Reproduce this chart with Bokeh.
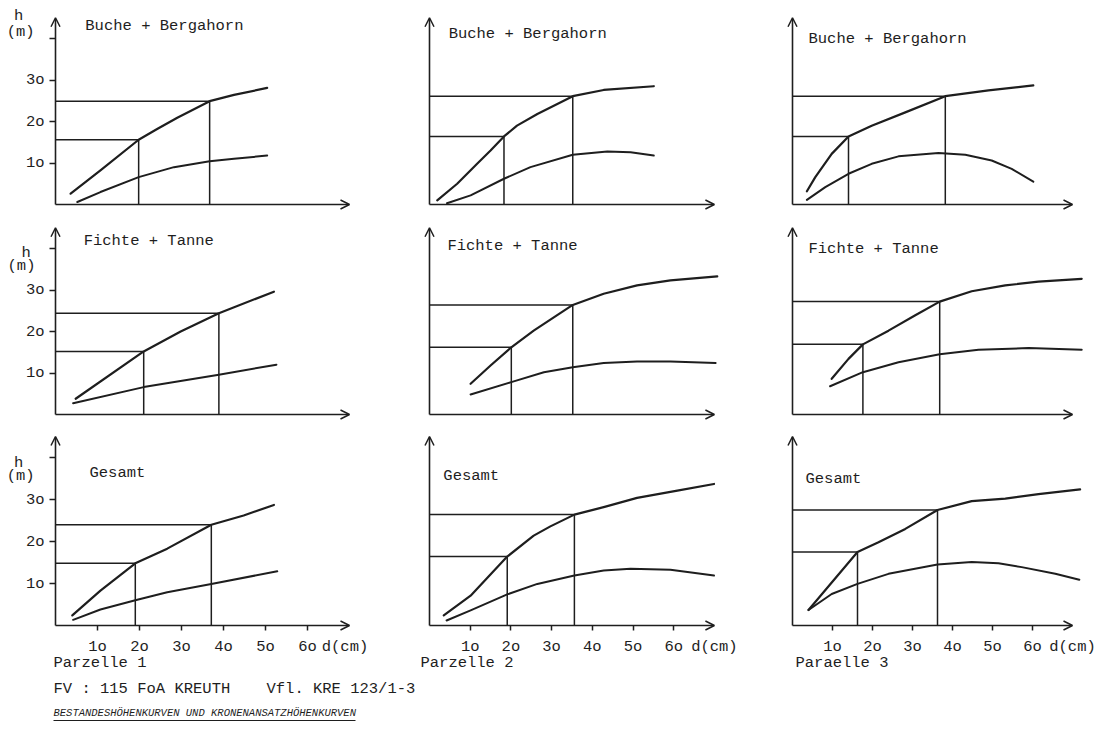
from bokeh.plotting import figure
from bokeh.layouts import column, row
from bokeh.models import Range1d, Arrow, OpenHead, Label, LinearAxis, FixedTicker
from bokeh.embed import file_html
from bokeh.resources import INLINE

# ---------------- data ----------------
row_titles = ["Buche + Bergahorn", "Fichte + Tanne", "Gesamt"]
plot_names = ["Parzelle 1", "Parzelle 2", "Paraelle 3"]
y_ticks = [10, 20, 30, 40]
y_tick_labels = ["1o", "2o", "3o", ""]
x_ticks = [10, 20, 30, 40, 50, 60]
x_tick_labels = ["1o", "2o", "3o", "4o", "5o", "6o"]
x_unit = "d(cm)"
x_unit_at = 70
y_unit = ["h", "(m)"]
footer_line1 = "FV : 115 FoA KREUTH"
footer_line1b = "Vfl. KRE 123/1-3"
footer_title = "BESTANDESHÖHENKURVEN UND KRONENANSATZHÖHENKURVEN"

# Parzelle 1 - Buche + Bergahorn
p1_bb_top_d = [3.6, 10.7, 19.8, 24.2, 29.0, 36.7, 42.5, 50.4]
p1_bb_top_h = [2.6, 8.2, 15.6, 18.2, 20.9, 24.9, 26.4, 28.1]
p1_bb_low_d = [5.2, 10.7, 19.8, 28.2, 36.7, 42.5, 50.4]
p1_bb_low_h = [0.6, 3.0, 6.6, 9.0, 10.4, 11.0, 11.8]
p1_bb_ref_d = [19.8, 36.7]
p1_bb_ref_h = [15.6, 24.9]
# Parzelle 2 - Buche + Bergahorn
p2_bb_top_d = [1.9, 6.8, 11.7, 15.0, 18.3, 21.5, 26.5, 35.2, 42.8, 55.1]
p2_bb_top_h = [1.0, 5.0, 9.8, 13.0, 16.4, 19.0, 21.8, 26.1, 27.6, 28.5]
p2_bb_low_d = [4.3, 10.1, 18.3, 24.8, 35.2, 43.7, 49.4, 55.1]
p2_bb_low_h = [0.3, 2.2, 6.2, 9.0, 12.0, 12.8, 12.6, 11.8]
p2_bb_ref_d = [18.3, 35.2]
p2_bb_ref_h = [16.4, 26.1]
# Parzelle 3 - Buche + Bergahorn
p3_bb_top_d = [3.6, 5.7, 9.8, 14.0, 19.8, 28.2, 38.2, 49.0, 60.2]
p3_bb_top_h = [3.2, 6.6, 12.2, 16.4, 19.0, 22.2, 26.1, 27.5, 28.7]
p3_bb_low_d = [3.6, 8.2, 14.0, 19.8, 26.5, 36.5, 43.2, 49.8, 54.8, 60.2]
p3_bb_low_h = [1.1, 4.2, 7.4, 9.8, 11.6, 12.4, 12.0, 10.6, 8.6, 5.5]
p3_bb_ref_d = [14.0, 38.2]
p3_bb_ref_h = [16.4, 26.1]

# Parzelle 1 - Fichte + Tanne
p1_ft_top_d = [4.8, 21.0, 29.8, 38.9, 52.0]
p1_ft_top_h = [3.8, 15.2, 20.0, 24.4, 29.6]
p1_ft_low_d = [4.2, 21.0, 38.9, 52.6]
p1_ft_low_h = [2.7, 6.6, 9.6, 12.0]
p1_ft_ref_d = [21.0, 38.9]
p1_ft_ref_h = [15.2, 24.4]
# Parzelle 2 - Fichte + Tanne
p2_ft_top_d = [10.1, 15.0, 20.1, 25.6, 35.2, 42.8, 51.0, 59.2, 70.7]
p2_ft_top_h = [7.4, 11.8, 16.2, 20.2, 26.4, 29.1, 31.1, 32.3, 33.3]
p2_ft_low_d = [10.1, 20.1, 28.1, 35.2, 42.8, 51.0, 59.2, 70.3]
p2_ft_low_h = [4.8, 7.8, 10.2, 11.4, 12.4, 12.8, 12.8, 12.4]
p2_ft_ref_d = [20.1, 35.2]
p2_ft_ref_h = [16.2, 26.4]
# Parzelle 3 - Fichte + Tanne
p3_ft_top_d = [9.8, 14.0, 17.6, 24.0, 30.7, 36.8, 44.8, 53.2, 61.5, 72.3]
p3_ft_top_h = [8.6, 13.4, 16.9, 20.2, 23.9, 27.2, 29.7, 31.1, 32.0, 32.7]
p3_ft_low_d = [9.4, 17.6, 26.5, 36.8, 46.5, 59.0, 72.3]
p3_ft_low_h = [6.8, 10.2, 12.6, 14.5, 15.6, 16.0, 15.6]
p3_ft_ref_d = [17.6, 36.8]
p3_ft_ref_h = [16.9, 27.2]

# Parzelle 1 - Gesamt
p1_ge_top_d = [4.0, 10.7, 19.0, 26.6, 37.1, 44.8, 52.0]
p1_ge_top_h = [2.4, 8.3, 14.8, 18.3, 24.0, 26.2, 28.7]
p1_ge_low_d = [4.2, 10.7, 19.0, 26.6, 37.1, 52.8]
p1_ge_low_h = [1.35, 3.8, 6.0, 7.9, 9.9, 12.9]
p1_ge_ref_d = [19.0, 37.1]
p1_ge_ref_h = [14.8, 24.0]
# Parzelle 2 - Gesamt
p2_ge_top_d = [3.5, 10.1, 19.1, 25.6, 29.7, 35.6, 42.8, 51.0, 60.9, 69.9]
p2_ge_top_h = [2.4, 7.1, 16.4, 21.4, 23.6, 26.4, 28.2, 30.4, 32.1, 33.7]
p2_ge_low_d = [4.2, 10.1, 19.1, 26.5, 35.6, 42.8, 49.4, 59.2, 69.9]
p2_ge_low_h = [1.2, 3.6, 7.4, 9.9, 11.9, 13.1, 13.5, 13.3, 11.9]
p2_ge_ref_d = [19.1, 35.6]
p2_ge_ref_h = [16.4, 26.4]
# Parzelle 3 - Gesamt
p3_ge_top_d = [4.0, 16.25, 21.5, 28.2, 36.25, 44.8, 53.2, 61.5, 71.9]
p3_ge_top_h = [3.7, 17.5, 19.8, 23.0, 27.5, 29.6, 30.2, 31.3, 32.4]
p3_ge_low_d = [4.0, 9.8, 16.25, 24.0, 36.25, 44.8, 51.5, 57.3, 65.7, 71.7]
p3_ge_low_h = [3.7, 7.5, 9.9, 12.3, 14.5, 15.1, 14.8, 13.9, 12.3, 10.9]
p3_ge_ref_d = [16.25, 36.25]
p3_ge_ref_h = [17.5, 27.5]

panels = [
    [(p1_bb_top_d, p1_bb_top_h, p1_bb_low_d, p1_bb_low_h, p1_bb_ref_d, p1_bb_ref_h),
     (p2_bb_top_d, p2_bb_top_h, p2_bb_low_d, p2_bb_low_h, p2_bb_ref_d, p2_bb_ref_h),
     (p3_bb_top_d, p3_bb_top_h, p3_bb_low_d, p3_bb_low_h, p3_bb_ref_d, p3_bb_ref_h)],
    [(p1_ft_top_d, p1_ft_top_h, p1_ft_low_d, p1_ft_low_h, p1_ft_ref_d, p1_ft_ref_h),
     (p2_ft_top_d, p2_ft_top_h, p2_ft_low_d, p2_ft_low_h, p2_ft_ref_d, p2_ft_ref_h),
     (p3_ft_top_d, p3_ft_top_h, p3_ft_low_d, p3_ft_low_h, p3_ft_ref_d, p3_ft_ref_h)],
    [(p1_ge_top_d, p1_ge_top_h, p1_ge_low_d, p1_ge_low_h, p1_ge_ref_d, p1_ge_ref_h),
     (p2_ge_top_d, p2_ge_top_h, p2_ge_low_d, p2_ge_low_h, p2_ge_ref_d, p2_ge_ref_h),
     (p3_ge_top_d, p3_ge_top_h, p3_ge_low_d, p3_ge_low_h, p3_ge_ref_d, p3_ge_ref_h)],
]

# ---------------- layout / style ----------------
INK = "#1e1e1e"
FONT = "Liberation Mono"
FS = "15.5px"
COL_CELLS = [(0, 370), (370, 738), (738, 1108)]
COL_ORIGIN = [55, 429, 792]
COL_SCALE = [4.2, 4.07, 4.0]
ROW_CELLS = [(0, 214), (214, 424), (424, 654)]
ROW_ORIGIN = [204, 414, 625]
ROW_SCALE = [4.15, 4.15, 4.2]
X_TIP = 70
Y_TIP = 45
title_pos = [[(7.1, 43.1), (4.7, 41.2), (4.0, 40.0)],
             [(6.7, 41.7), (4.4, 40.7), (4.0, 39.8)],
             [(8.1, 36.2), (3.4, 35.7), (3.25, 35.0)]]
unit_pos = [[(-8.8, 45.5), (-8.3, 41.6)],
            [(-7.0, 38.8), (-8.1, 35.9)],
            [(-8.8, 38.8), (-8.3, 35.7)]]


def clean(p):
    p.grid.grid_line_color = None
    p.xgrid.visible = False
    p.ygrid.visible = False


def make_panel(r, c):
    cl, cr = COL_CELLS[c]
    rt, rb = ROW_CELLS[r]
    x0, sx = COL_ORIGIN[c], COL_SCALE[c]
    y0, sy = ROW_ORIGIN[r], ROW_SCALE[r]
    p = figure(width=cr - cl, height=rb - rt,
               x_range=Range1d((cl - x0) / sx, (cr - x0) / sx),
               y_range=Range1d((y0 - rb) / sy, (y0 - rt) / sy),
               x_axis_location=None, y_axis_location=None,
               toolbar_location=None, output_backend="svg",
               min_border=0, outline_line_color=None,
               background_fill_color="white", border_fill_color="white")
    clean(p)
    top_d, top_h, low_d, low_h, ref_d, ref_h = panels[r][c]
    n = len(ref_d)
    # guide lines
    p.segment(x0=[0] * n, y0=ref_h, x1=ref_d, y1=ref_h, line_color=INK, line_width=1.5)
    p.segment(x0=ref_d, y0=[0] * n, x1=ref_d, y1=ref_h, line_color=INK, line_width=1.5)
    # curves
    p.line(top_d, top_h, line_color=INK, line_width=2.2, line_join="round", line_cap="round")
    p.line(low_d, low_h, line_color=INK, line_width=2.0, line_join="round", line_cap="round")
    # axes with arrow heads
    p.add_layout(Arrow(end=OpenHead(size=9, line_width=1.5, line_color=INK),
                       x_start=0, y_start=0, x_end=0, y_end=Y_TIP,
                       line_color=INK, line_width=1.6))
    p.add_layout(Arrow(end=OpenHead(size=9, line_width=1.5, line_color=INK),
                       x_start=0, y_start=0, x_end=X_TIP, y_end=0,
                       line_color=INK, line_width=1.6))
    if c == 0:
        ya = LinearAxis(ticker=FixedTicker(ticks=y_ticks),
                        major_label_overrides={float(t): l for t, l in zip(y_ticks, y_tick_labels)},
                        fixed_location=0, axis_line_color=None,
                        major_tick_in=0, major_tick_out=6, major_tick_line_width=1.5,
                        major_tick_line_color=INK, minor_tick_line_color=None,
                        major_label_text_font=FONT, major_label_text_font_size=FS,
                        major_label_text_color=INK, major_label_standoff=5)
        p.add_layout(ya, "left")
        for txt, (ux, uy) in zip(y_unit, unit_pos[r]):
            p.add_layout(Label(x=ux, y=uy, text=txt, text_font=FONT, text_font_size=FS,
                               text_color=INK, text_align="center", text_baseline="middle"))
    if r == 2:
        xa = LinearAxis(ticker=FixedTicker(ticks=x_ticks),
                        major_label_overrides={float(t): l for t, l in zip(x_ticks, x_tick_labels)},
                        fixed_location=0, axis_line_color=None,
                        major_tick_in=0, major_tick_out=5, major_tick_line_width=1.5,
                        major_tick_line_color=INK, minor_tick_line_color=None,
                        major_label_text_font=FONT, major_label_text_font_size=FS,
                        major_label_text_color=INK, major_label_standoff=7)
        p.add_layout(xa, "below")
        xu = LinearAxis(ticker=FixedTicker(ticks=[x_unit_at]),
                        major_label_overrides={float(x_unit_at): x_unit},
                        fixed_location=0, axis_line_color=None,
                        major_tick_in=0, major_tick_out=5, major_tick_line_color=None,
                        minor_tick_line_color=None,
                        major_label_text_font=FONT, major_label_text_font_size=FS,
                        major_label_text_color=INK, major_label_standoff=7)
        p.add_layout(xu, "below")
    tx, ty = title_pos[r][c]
    p.add_layout(Label(x=tx, y=ty, text=row_titles[r], text_font=FONT, text_font_size=FS,
                       text_color=INK, text_align="left", text_baseline="middle"))
    return p


rows = []
for r in range(3):
    rows.append(row([make_panel(r, c) for c in range(3)], spacing=0))

# footer
top = ROW_CELLS[2][1]
pb = figure(width=1108, height=742 - top, x_range=Range1d(0, 1108), y_range=Range1d(742, top),
            x_axis_location=None, y_axis_location=None, toolbar_location=None,
            output_backend="svg", min_border=0, outline_line_color=None,
            background_fill_color="white", border_fill_color="white")
clean(pb)
for name, xpos in zip(plot_names, [53, 420, 795]):
    pb.add_layout(Label(x=xpos, y=662, text=name, text_font=FONT, text_font_size=FS,
                        text_color=INK, text_baseline="middle"))
pb.add_layout(Label(x=53, y=688, text=footer_line1, text_font=FONT, text_font_size=FS,
                    text_color=INK, text_baseline="middle"))
pb.add_layout(Label(x=266, y=688, text=footer_line1b, text_font=FONT, text_font_size=FS,
                    text_color=INK, text_baseline="middle"))
pb.add_layout(Label(x=53, y=712, text=footer_title, text_font=FONT,
                    text_font_size="10.5px", text_font_style="italic", text_color=INK,
                    text_baseline="middle"))
pb.line([53, 355], [720, 720], line_color=INK, line_width=1.2)

layout = column(rows + [pb], spacing=0)
open("out.html", "w").write(file_html(layout, INLINE))
